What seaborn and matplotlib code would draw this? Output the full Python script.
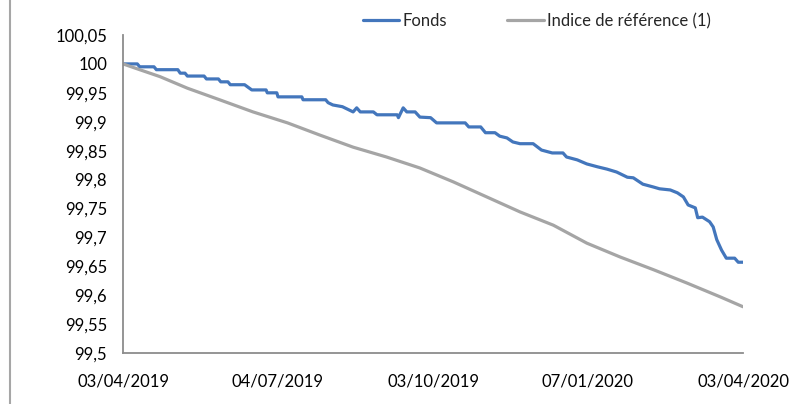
import numpy as np
import pandas as pd
import matplotlib
matplotlib.use("Agg")
import matplotlib.pyplot as plt
from matplotlib.lines import Line2D
import seaborn as sns

# Data (x = trading-day index from 03/04/2019)
fonds_day = [0, 6, 7, 13, 14, 23, 24, 26, 27, 34, 35, 40, 41, 44, 45, 51, 54, 60, 60.5, 64.5,
             65, 75, 75.5, 85, 86, 88, 92, 95, 96.5, 98, 99.5, 105, 106.5, 115, 115.5, 117.5,
             119, 122.5, 124.5, 129, 131.5, 143.5, 145, 150, 152, 156, 158, 161, 163.5, 166.5,
             172, 175.5, 180, 184.5, 186, 190.5, 194.5, 199, 203, 207, 211.5, 214, 218, 222.5,
             225, 229.5, 232.5, 235, 237, 240, 241, 243, 246, 247.5, 249, 251, 253, 256.5,
             258, 260]
fonds_val = [100.000, 100.000, 99.995, 99.995, 99.990, 99.990, 99.984, 99.984, 99.979, 99.979,
             99.974, 99.974, 99.969, 99.969, 99.964, 99.964, 99.955, 99.955, 99.950, 99.950,
             99.943, 99.943, 99.938, 99.938, 99.933, 99.929, 99.926, 99.920, 99.917, 99.924,
             99.917, 99.917, 99.912, 99.912, 99.907, 99.924, 99.917, 99.917, 99.908, 99.907,
             99.898, 99.898, 99.891, 99.891, 99.881, 99.881, 99.875, 99.872, 99.865, 99.862,
             99.862, 99.851, 99.846, 99.846, 99.839, 99.834, 99.827, 99.822, 99.818, 99.813,
             99.804, 99.803, 99.792, 99.787, 99.784, 99.782, 99.777, 99.770, 99.756, 99.751,
             99.734, 99.735, 99.727, 99.718, 99.696, 99.678, 99.664, 99.664, 99.657, 99.657]

ref_day = [0, 7, 15.5, 27, 40.5, 54.5, 69, 82.5, 96.5, 110.5, 124.5, 138.5, 152.5, 166.5,
           180.5, 194.5, 208.5, 222.5, 236.5, 250.5, 260]
ref_val = [100.000, 99.990, 99.978, 99.958, 99.938, 99.917, 99.898, 99.877, 99.856, 99.839,
           99.820, 99.796, 99.770, 99.744, 99.721, 99.690, 99.666, 99.644, 99.621, 99.597,
           99.580]

tick_days = [0, 65, 130, 195, 260]
tick_labels = ["03/04/2019", "04/07/2019", "03/10/2019", "07/01/2020", "03/04/2020"]
y_ticks = [99.5 + 0.05 * i for i in range(12)]

sns.set_style("white")
plt.rcParams["font.family"] = ["Lato", "DejaVu Sans"]

fig = plt.figure(figsize=(8.02, 4.04), dpi=100)
ax = fig.add_axes([123 / 802, 51 / 404, 620 / 802, 318 / 404])

df_f = pd.DataFrame({"day": fonds_day, "val": fonds_val})
df_r = pd.DataFrame({"day": ref_day, "val": ref_val})
sns.lineplot(data=df_f, x="day", y="val", ax=ax, color="#4376BC", lw=2.3, label="Fonds")
sns.lineplot(data=df_r, x="day", y="val", ax=ax, color="#A5A5A5", lw=2.3,
             label="Indice de référence (1)")

ax.set_xlim(0, 260)
ax.set_ylim(99.5, 100.05)
ax.set_xticks(tick_days)
ax.set_xticklabels(tick_labels)
ax.set_yticks(y_ticks)
ax.set_yticklabels([f"{round(v, 2):g}".replace(".", ",") for v in y_ticks])
ax.set_xlabel("")
ax.set_ylabel("")

for s in ["top", "right"]:
    ax.spines[s].set_visible(False)
for s in ["left", "bottom"]:
    ax.spines[s].set_color("#8C8C8C")
    ax.spines[s].set_linewidth(1.3)
ax.tick_params(axis="both", direction="inout", length=7, width=1, color="#8C8C8C",
               labelsize=12, labelcolor="#000000")
ax.tick_params(axis="y", pad=8)
ax.tick_params(axis="x", pad=11)

ax.get_legend().remove()
handles, labels = ax.get_legend_handles_labels()
fig.legend(handles, labels, loc="center", bbox_to_anchor=(537 / 802, 1 - 21 / 404), ncol=2,
           frameon=False, fontsize=12, handlelength=2.2, handletextpad=0.2,
           columnspacing=3.6)

fig.add_artist(Line2D([10 / 802, 10 / 802], [0, 1], color="#A6A6A6", lw=1.5))

fig.savefig("out.png", dpi=100)
